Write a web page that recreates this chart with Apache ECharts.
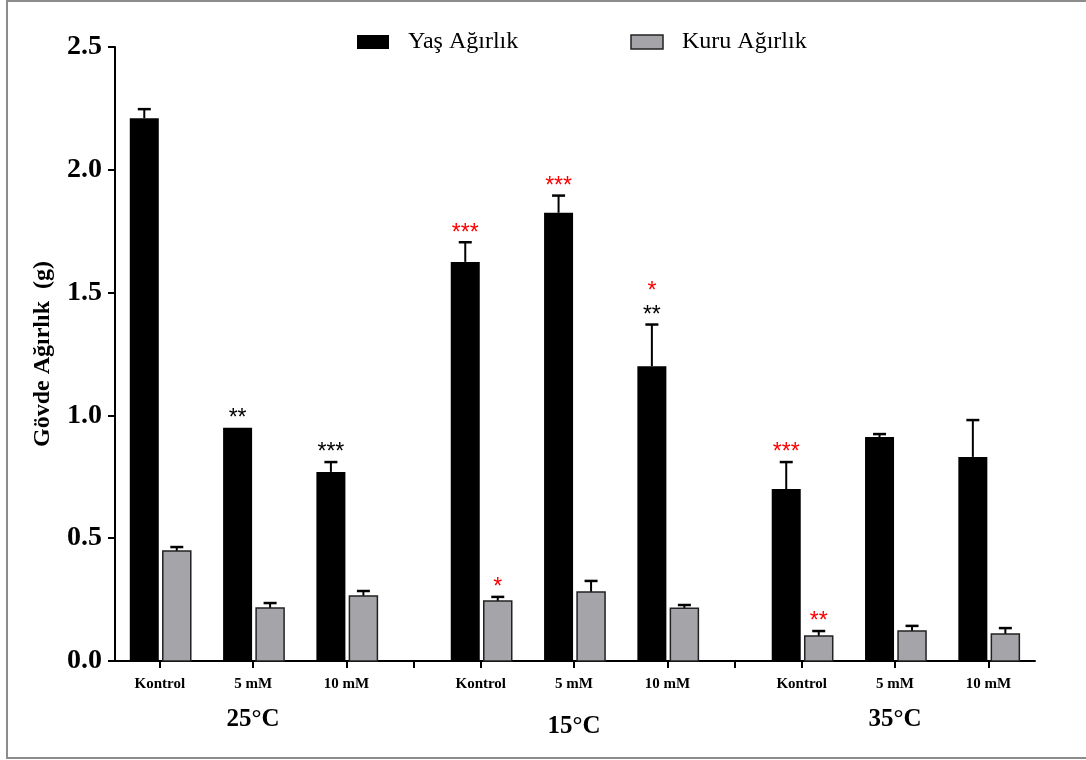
<!DOCTYPE html>
<html><head><meta charset="utf-8">
<script src="https://cdn.jsdelivr.net/npm/echarts@6/dist/echarts.min.js"></script>
<style>html,body{margin:0;padding:0;background:#fff}#c{width:1086px;height:760px}</style>
</head><body><div id="c"></div>
<script>
// ---- data ----
const groups = ['25°C', '15°C', '35°C'];
const doses = ['Kontrol', '5 mM', '10 mM'];
const yasMean = [2.21, 0.95, 0.77, 1.625, 1.825, 1.20, 0.70, 0.912, 0.831];
const yasErr  = [0.037, 0.0, 0.04, 0.08, 0.07, 0.17, 0.11, 0.012, 0.15];
const kuruMean = [0.448, 0.216, 0.265, 0.244, 0.281, 0.215, 0.102, 0.122, 0.110];
const kuruErr  = [0.016, 0.02, 0.02, 0.017, 0.045, 0.013, 0.02, 0.021, 0.024];
const yasStars      = ['', '**', '***', '***', '***', '**', '***', '', ''];
const yasStarColors = ['', 'black', 'black', 'red', 'red', 'black', 'red', '', ''];
const yasStarsTop   = ['', '', '', '', '', '*', '', '', ''];
const kuruStars     = ['', '', '', '*', '', '', '**', '', ''];
const yTicks = [0, 0.5, 1.0, 1.5, 2.0, 2.5];

// ---- layout helpers (category slot positions on a value x-axis) ----
const GROUP_GAP = 1.44;
const groupStep = doses.length - 1 + GROUP_GAP;
const pos = [];
const names = [];
groups.forEach((g, gi) => doses.forEach((d, di) => { pos.push(gi * groupStep + di); names.push(d); }));
const gapPos = [];
for (let gi = 0; gi < groups.length - 1; gi++) gapPos.push(gi * groupStep + doses.length - 1 + GROUP_GAP / 2);
const groupCenters = groups.map((g, gi) => gi * groupStep + (doses.length - 1) / 2);

const SERIF = '"Liberation Serif","Times New Roman",serif';
const STAR_FONT = '23px "Liberation Sans", Arial, sans-serif';

function makeRender(dx, fill, stroke, barW, starsArr, colorsArr, topArr) {
  return function (params, api) {
    const i = params.dataIndex;
    const x = api.value(0), v = api.value(1), e = api.value(2);
    const base = api.coord([x, 0]);
    const top = api.coord([x, v]);
    const cap = api.coord([x, v + e]);
    const cx = base[0] + dx;
    const children = [];
    if (e > 0) {
      children.push({ type: 'line', shape: { x1: cx, y1: top[1], x2: cx, y2: cap[1] }, style: { stroke: '#000', lineWidth: 2 }, z2: 1 });
      children.push({ type: 'line', shape: { x1: cx - 6.5, y1: cap[1], x2: cx + 6.5, y2: cap[1] }, style: { stroke: '#000', lineWidth: 2.5 }, z2: 1 });
    }
    children.push({ type: 'rect', shape: { x: cx - barW / 2, y: top[1], width: barW, height: base[1] - top[1] },
      style: { fill: fill, stroke: stroke, lineWidth: stroke ? 1.5 : 0 }, z2: 2 });
    const s = starsArr[i];
    if (s) {
      children.push({ type: 'text', style: { text: s, x: cx, y: cap[1] - 9, align: 'center', verticalAlign: 'middle',
        fill: colorsArr ? colorsArr[i] : 'red', font: STAR_FONT }, z2: 3 });
    }
    if (topArr && topArr[i]) {
      children.push({ type: 'text', style: { text: topArr[i], x: cx, y: cap[1] - 33, align: 'center', verticalAlign: 'middle',
        fill: 'red', font: STAR_FONT }, z2: 3 });
    }
    return { type: 'group', children: children };
  };
}

const nameAt = (v) => { for (let k = 0; k < pos.length; k++) if (Math.abs(pos[k] - v) < 1e-6) return names[k]; return ''; };
const groupAt = (v) => { for (let k = 0; k < groupCenters.length; k++) if (Math.abs(groupCenters[k] - v) < 1e-6) return k === 1 ? '{low|' + groups[k] + '}' : '{n|' + groups[k] + '}'; return ''; };

const chart = echarts.init(document.getElementById('c'), null, { renderer: 'canvas' });
chart.setOption({
  backgroundColor: '#fff',
  animation: false,
  graphic: [{ type: 'rect', shape: { x: 7, y: 1, width: 1090, height: 757 }, style: { fill: 'none', stroke: '#8c8c8c', lineWidth: 2 }, silent: true }],
  legend: {
    left: 352, top: 25, itemWidth: 32, itemHeight: 14, itemGap: 112,
    textStyle: { fontFamily: SERIF, fontSize: 24, color: '#000', padding: [0, 0, 0, 14] },
    data: [
      { name: 'Yaş Ağırlık', icon: 'rect', itemStyle: { color: '#000', borderWidth: 0 } },
      { name: 'Kuru Ağırlık', icon: 'rect', itemStyle: { color: '#a5a4a9', borderColor: '#222', borderWidth: 1.5 } }
    ]
  },
  grid: { left: 115, right: 51, top: 47, bottom: 99, containLabel: false },
  xAxis: [{
    type: 'value', min: -0.48, max: pos[pos.length - 1] + 0.5,
    splitLine: { show: false },
    axisLine: { show: true, onZero: false, lineStyle: { color: '#000', width: 2 } },
    axisTick: { show: true, length: 7, lineStyle: { color: '#000', width: 2 }, customValues: pos.concat(gapPos) },
    axisLabel: { customValues: pos, formatter: nameAt, margin: 16, fontFamily: SERIF, fontWeight: 'bold', fontSize: 15, color: '#000' }
  }, {
    type: 'value', min: -0.48, max: pos[pos.length - 1] + 0.5, position: 'bottom',
    splitLine: { show: false }, axisLine: { show: false, onZero: false }, axisTick: { show: false },
    axisLabel: { customValues: groupCenters, formatter: groupAt, margin: 46,
      rich: { n: { fontFamily: SERIF, fontWeight: 'bold', fontSize: 25, color: '#000' },
              low: { fontFamily: SERIF, fontWeight: 'bold', fontSize: 25, color: '#000', padding: [7, 0, 0, 0] } } }
  }],
  yAxis: {
    type: 'value', min: 0, max: 2.5, interval: 0.5,
    name: 'Gövde Ağırlık  (g)', nameLocation: 'middle', nameGap: 60, nameRotate: 90,
    nameTextStyle: { fontFamily: SERIF, fontWeight: 'bold', fontSize: 24, color: '#000' },
    splitLine: { show: false },
    axisLine: { show: true, onZero: false, lineStyle: { color: '#000', width: 2 } },
    axisTick: { show: true, length: 7, lineStyle: { color: '#000', width: 2 } },
    axisLabel: { margin: 13, fontFamily: SERIF, fontWeight: 'bold', fontSize: 28, color: '#000', formatter: (v) => v.toFixed(1) }
  },
  series: [{
    name: 'Yaş Ağırlık', type: 'custom', xAxisIndex: 0,
    itemStyle: { color: '#000' },
    renderItem: makeRender(-15.5, '#000', null, 29, yasStars, yasStarColors, yasStarsTop),
    data: pos.map((p, i) => [p, yasMean[i], yasErr[i]])
  }, {
    name: 'Kuru Ağırlık', type: 'custom', xAxisIndex: 0,
    itemStyle: { color: '#a5a4a9' },
    renderItem: makeRender(17, '#a5a4a9', '#222', 28, kuruStars, null, null),
    data: pos.map((p, i) => [p, kuruMean[i], kuruErr[i]])
  }]
});
</script></body></html>
